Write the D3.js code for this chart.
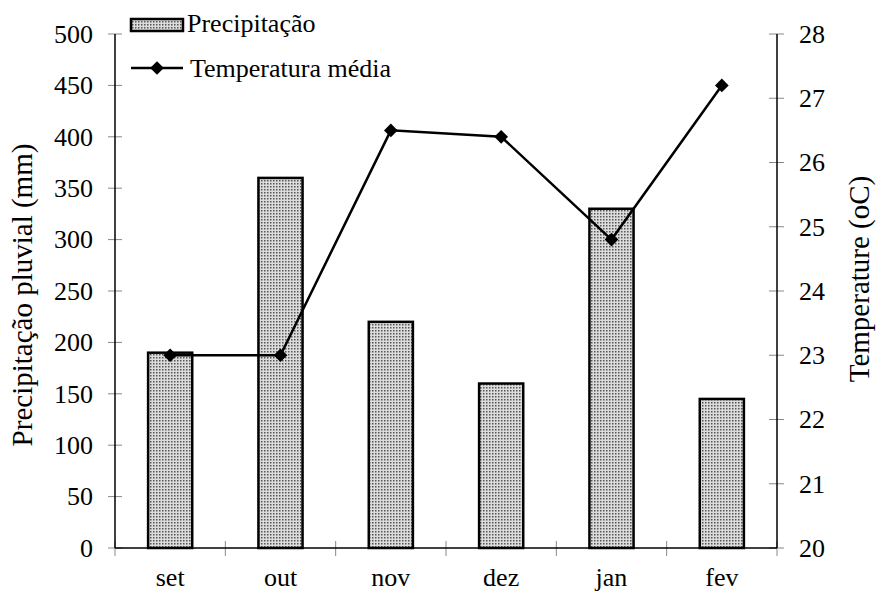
<!DOCTYPE html>
<html><head><meta charset="utf-8">
<script src="https://cdn.jsdelivr.net/npm/d3@7"></script>
<style>body{margin:0;background:#fff}svg{display:block}</style>
</head><body>
<svg id="c" width="876" height="591" font-family="'Liberation Serif', 'Times New Roman', Tinos, 'DejaVu Serif', serif"></svg>
<script>
const months = ["set","out","nov","dez","jan","fev"];
const precipitation = [190,360,220,160,330,145];
const temperature = [23.0,23.0,26.5,26.4,24.8,27.2];
const precipTicks = [0,50,100,150,200,250,300,350,400,450,500];
const tempTicks = [20,21,22,23,24,25,26,27,28];

const svg = d3.select("#c");
const L=115,R=777,T=34,B=548, FS=26, TFS=29;
const xb = d3.scaleBand().domain(months).range([L,R]);
const y = d3.scaleLinear().domain([0,500]).range([B,T]);
const y2 = d3.scaleLinear().domain([20,28]).range([B,T]);

const defs = svg.append("defs");
const pat = defs.append("pattern").attr("id","dots").attr("patternUnits","userSpaceOnUse").attr("width",3).attr("height",3);
pat.append("rect").attr("width",3).attr("height",3).attr("fill","#dcdcdc");
pat.append("rect").attr("width",1.5).attr("height",1.5).attr("fill","#555");

// bars
svg.append("g").selectAll("rect").data(months).join("rect")
  .attr("x",d=>xb(d)+xb.bandwidth()*0.3).attr("width",xb.bandwidth()*0.4)
  .attr("y",(d,i)=>y(precipitation[i])).attr("height",(d,i)=>B-y(precipitation[i]))
  .attr("fill","url(#dots)").attr("stroke","#000").attr("stroke-width",2.5);

// ticks and labels
svg.append("g").selectAll("line").data(precipTicks).join("line")
  .attr("x1",L-7).attr("x2",L+7).attr("y1",d=>y(d)).attr("y2",d=>y(d)).attr("stroke","#888").attr("stroke-width",1);
svg.append("g").selectAll("text").data(precipTicks).join("text")
  .attr("x",L-22).attr("y",d=>y(d)).attr("dy","0.34em").attr("text-anchor","end").attr("font-size",FS).text(d=>d);
svg.append("g").selectAll("line").data(tempTicks).join("line")
  .attr("x1",R-8).attr("x2",R+7).attr("y1",d=>y2(d)).attr("y2",d=>y2(d)).attr("stroke","#888").attr("stroke-width",1);
svg.append("g").selectAll("text").data(tempTicks).join("text")
  .attr("x",R+22).attr("y",d=>y2(d)).attr("dy","0.34em").attr("text-anchor","start").attr("font-size",FS).text(d=>d);
const xt = months.map(m=>xb(m)).concat([R]);
svg.append("g").selectAll("line").data(xt).join("line")
  .attr("x1",d=>d).attr("x2",d=>d).attr("y1",B-7).attr("y2",B+8).attr("stroke","#888").attr("stroke-width",1);
svg.append("g").selectAll("text").data(months).join("text")
  .attr("x",d=>xb(d)+xb.bandwidth()/2).attr("y",586).attr("text-anchor","middle").attr("font-size",FS).text(d=>d);
// axis lines
svg.append("line").attr("x1",L).attr("x2",L).attr("y1",T).attr("y2",B).attr("stroke","#000").attr("stroke-width",1.5);
svg.append("line").attr("x1",R).attr("x2",R).attr("y1",T).attr("y2",B).attr("stroke","#000").attr("stroke-width",1.5);
svg.append("line").attr("x1",L).attr("x2",R).attr("y1",B).attr("y2",B).attr("stroke","#000").attr("stroke-width",1.5);

// line
const line = d3.line().x((d,i)=>xb(months[i])+xb.bandwidth()/2).y(d=>y2(d));
svg.append("path").datum(temperature).attr("d",line).attr("fill","none").attr("stroke","#000").attr("stroke-width",2.5);
const diamond = d3.symbol().type(d3.symbolDiamond2).size(120);
svg.append("g").selectAll("path").data(temperature).join("path")
  .attr("transform",(d,i)=>`translate(${xb(months[i])+xb.bandwidth()/2},${y2(d)})`)
  .attr("d",diamond).attr("fill","#000");

// titles
svg.append("text").attr("transform",`translate(32,295) rotate(-90)`).attr("text-anchor","middle").attr("font-size",TFS).text("Precipitação pluvial (mm)");
svg.append("text").attr("transform",`translate(869,279) rotate(-90)`).attr("text-anchor","middle").attr("font-size",TFS).text("Temperature (oC)");

// legend
svg.append("rect").attr("x",131).attr("y",19).attr("width",52).attr("height",12).attr("fill","url(#dots)").attr("stroke","#000").attr("stroke-width",2.5);
svg.append("text").attr("x",187).attr("y",32).attr("font-size",FS).text("Precipitação");
svg.append("line").attr("x1",131).attr("x2",183).attr("y1",68).attr("y2",68).attr("stroke","#000").attr("stroke-width",2.5);
svg.append("path").attr("transform","translate(157,68)").attr("d",diamond).attr("fill","#000");
svg.append("text").attr("x",190).attr("y",77).attr("font-size",FS).text("Temperatura média");
</script>
</body></html>
